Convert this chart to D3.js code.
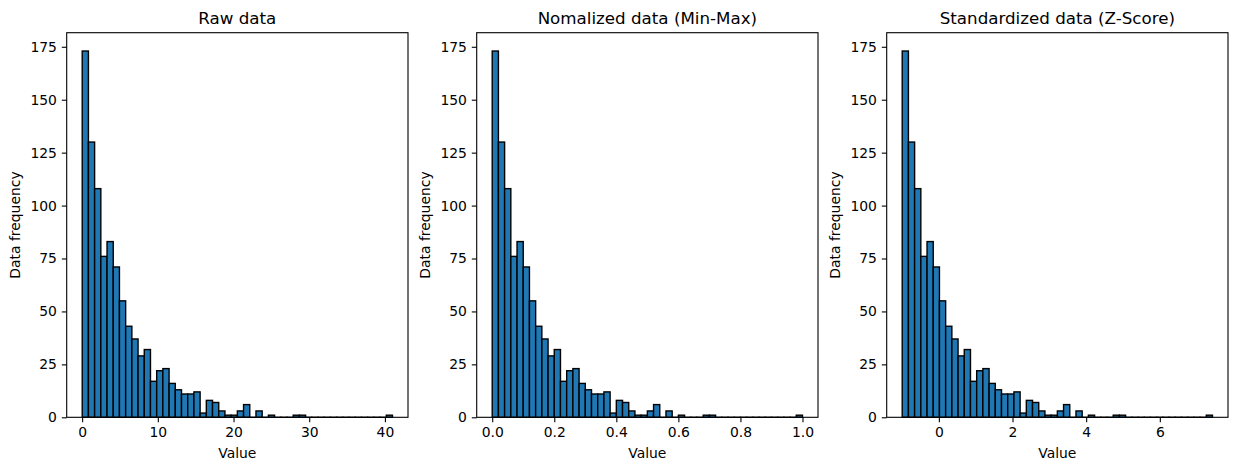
<!DOCTYPE html>
<html>
<head>
<meta charset="utf-8">
<title>Raw vs normalized vs standardized histograms</title>
<script src="https://unpkg.com/d3@7/dist/d3.min.js"></script>
<style>
  body { margin: 0; background: #fff; }
  text { font-family: "DejaVu Sans", sans-serif; fill: #000; }
  .tick text { font-size: 13.9px; }
  .title { font-size: 16.7px; }
  .label { font-size: 13.9px; }
</style>
</head>
<body>
<div id="chart"></div>
<script>
// bin counts (50 bins, identical for all three panels)
const counts = [173, 130, 108, 76, 83, 71, 55, 43, 37, 29,
                32, 17, 22, 23, 16, 13, 11, 11, 12, 2,
                8, 7, 3, 1, 1, 3, 6, 0, 3, 0,
                1, 0, 0, 0, 1, 1, 0, 0, 0, 0,
                0, 0, 0, 0, 0, 0, 0, 0, 0, 1];

// data range spanned by the bins in each panel
const rawRange = [0.01, 41.0];
const normRange = [0, 1];
const zRange = [-0.995, 7.43];

const rawTicks = [0, 10, 20, 30, 40];
const normTicks = [0, 0.2, 0.4, 0.6, 0.8, 1.0];
const zTicks = [0, 2, 4, 6];
const yTicks = [0, 25, 50, 75, 100, 125, 150, 175];

const titles = ["Raw data", "Nomalized data (Min-Max)", "Standardized data (Z-Score)"];

const panels = [
  {title: titles[0], range: rawRange, ticks: rawTicks, fmt: d3.format("d")},
  {title: titles[1], range: normRange, ticks: normTicks, fmt: d3.format(".1f")},
  {title: titles[2], range: zRange, ticks: zTicks, fmt: d3.format("d")}
];

const W = 1238, H = 470;
const axW = 341.3, axH = 384.6, axTop = 32.7, lefts = [66.7, 476.7, 886.7];

const svg = d3.select("#chart").append("svg")
    .attr("width", W)
    .attr("height", H);

const yMax = d3.max(counts) * 1.05;
const y = d3.scaleLinear().domain([0, yMax]).range([axH, 0]);

panels.forEach(function (p, k) {
  const lo = p.range[0], hi = p.range[1];
  const pad = (hi - lo) * 0.05;
  const x = d3.scaleLinear().domain([lo - pad, hi + pad]).range([0, axW]);
  const bw = (hi - lo) / counts.length;

  const g = svg.append("g")
      .attr("transform", `translate(${lefts[k]},${axTop})`);

  g.selectAll("rect.bar")
    .data(counts.map((c, i) => ({c: c, x0: lo + i * bw, x1: lo + (i + 1) * bw})))
    .join("rect")
      .attr("class", "bar")
      .attr("x", d => x(d.x0))
      .attr("width", d => x(d.x1) - x(d.x0))
      .attr("y", d => y(d.c))
      .attr("height", d => Math.max(y(0) - y(d.c), 0.01))
      .attr("fill", "#1f77b4")
      .attr("stroke", "#000")
      .attr("stroke-width", 1.39);

  const xAxis = g.append("g")
      .attr("transform", `translate(0,${axH})`)
      .call(d3.axisBottom(x).tickValues(p.ticks).tickFormat(p.fmt)
            .tickSizeInner(4.9).tickSizeOuter(0).tickPadding(4.9));
  const yAxis = g.append("g")
      .call(d3.axisLeft(y).tickValues(yTicks)
            .tickSizeInner(4.9).tickSizeOuter(0).tickPadding(4.9));

  [xAxis, yAxis].forEach(a => {
    a.select(".domain").remove();
    a.selectAll(".tick line").attr("stroke", "#000").attr("stroke-width", 1.1);
    a.selectAll(".tick text").attr("fill", "#000").attr("font-family", null).attr("font-size", null);
  });
  xAxis.attr("font-family", null).attr("font-size", null);
  yAxis.attr("font-family", null).attr("font-size", null);

  // frame
  g.append("rect")
      .attr("width", axW)
      .attr("height", axH)
      .attr("fill", "none")
      .attr("stroke", "#000")
      .attr("stroke-width", 1.1);

  g.append("text")
      .attr("class", "title")
      .attr("x", axW / 2)
      .attr("y", -8.3)
      .attr("text-anchor", "middle")
      .text(p.title);

  g.append("text")
      .attr("class", "label")
      .attr("x", axW / 2)
      .attr("y", axH + 41)
      .attr("text-anchor", "middle")
      .text("Value");

  g.append("text")
      .attr("class", "label")
      .attr("transform", `translate(${-47},${axH / 2}) rotate(-90)`)
      .attr("text-anchor", "middle")
      .text("Data frequency");
});
</script>
</body>
</html>
